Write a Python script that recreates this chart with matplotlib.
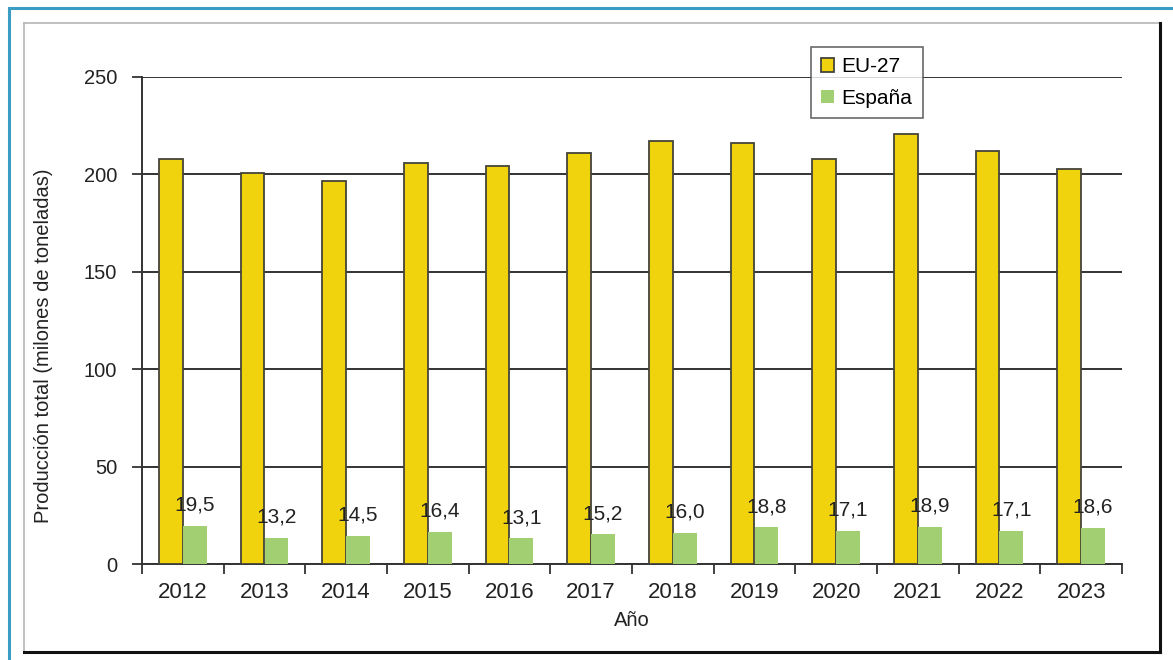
import matplotlib
matplotlib.use('Agg')
import matplotlib.pyplot as plt
from matplotlib.lines import Line2D
import numpy as np

plt.rcParams['font.family'] = ['Liberation Sans', 'DejaVu Sans']

# Data
years = ['2012', '2013', '2014', '2015', '2016', '2017',
         '2018', '2019', '2020', '2021', '2022', '2023']
eu27 = [207.8, 200.5, 196.7, 205.6, 204.4, 210.9,
        217.4, 216.2, 207.8, 220.5, 212.1, 202.6]
espana = [19.5, 13.2, 14.5, 16.4, 13.1, 15.2,
          16.0, 18.8, 17.1, 18.9, 17.1, 18.6]
espana_labels = ['19,5', '13,2', '14,5', '16,4', '13,1', '15,2',
                 '16,0', '18,8', '17,1', '18,9', '17,1', '18,6']

W, H = 1173, 660
fig = plt.figure(figsize=(W / 100, H / 100), dpi=100)
fig.patch.set_facecolor('white')


def fig_line(xs, ys, color, lw):
    # xs, ys in pixels from top-left
    fig.add_artist(Line2D([v / W for v in xs], [1 - v / H for v in ys],
                          color=color, lw=lw, transform=fig.transFigure))


# outer blue frame (left + top visible) and inner shadowed box
fig_line([9, 9], [660, 8], '#3b9cc4', 2.2)
fig_line([9, 1173], [8, 8], '#3b9cc4', 2.2)
fig_line([24, 24], [652, 23], '#b5b5b5', 1.2)
fig_line([24, 1160], [23, 23], '#b5b5b5', 1.2)
fig_line([1160, 1160], [652, 23], '#111111', 2.2)
fig_line([24, 1160], [652, 652], '#111111', 2.2)

ax = fig.add_axes([142 / W, (H - 564) / H, (1122 - 142) / W, (564 - 77) / H])
ax.set_facecolor('white')

x = np.arange(len(years))
bw = 0.29
ax.bar(x - bw / 2, eu27, width=bw, color='#f0d30c', edgecolor='#44443a',
       linewidth=1.3, label='EU-27', zorder=3)
ax.bar(x + bw / 2, espana, width=bw, color='#a2cf72', edgecolor='none',
       label='España', zorder=3)

for xi, v, lab in zip(x, espana, espana_labels):
    ax.annotate(lab, (xi + bw / 2, v), xytext=(0, 15), textcoords='offset points',
                ha='center', va='center', fontsize=15, color='#222222', zorder=4)

ax.set_xlim(-0.5, len(years) - 0.5)
ax.set_ylim(0, 250)
ax.set_yticks([0, 50, 100, 150, 200, 250])
ax.yaxis.grid(True, color='#333333', linewidth=1.4, zorder=0)
ax.set_axisbelow(True)

ax.set_xticks(x)
ax.set_xticklabels(years)
ax.set_xticks(np.arange(-0.5, len(years)), minor=True)
ax.tick_params(axis='x', which='major', length=0, pad=13, labelsize=16, labelcolor='#222222')
ax.tick_params(axis='x', which='minor', length=7, width=1.3, color='#333333', direction='out')
ax.tick_params(axis='y', length=7, width=1.3, color='#333333', pad=11, labelsize=14.5,
               labelcolor='#222222')

for s in ['top', 'right']:
    ax.spines[s].set_visible(False)
for s in ['left', 'bottom']:
    ax.spines[s].set_color('#333333')
    ax.spines[s].set_linewidth(1.4)

ax.set_ylabel('Producción total (milones de toneladas)', fontsize=14.5, color='#222222')
ax.yaxis.set_label_coords(-0.101, 0.448)
ax.set_xlabel('Año', fontsize=14.5, color='#222222')
ax.xaxis.set_label_coords(0.5, -(620 - 564) / 487)
ax.xaxis.label.set_va('center')
ax.yaxis.label.set_va('center')

leg = ax.legend(loc='upper left', bbox_to_anchor=(811 / W, 1 - 47 / H),
                bbox_transform=fig.transFigure, frameon=True, fancybox=False,
                fontsize=15, handlelength=0.6, handleheight=0.6, handletextpad=0.35,
                borderpad=0.5, labelspacing=0.6, borderaxespad=0)
leg.get_frame().set_edgecolor('#444444')
leg.get_frame().set_linewidth(1.2)
leg.set_zorder(5)

fig.savefig('out.png', dpi=100)
